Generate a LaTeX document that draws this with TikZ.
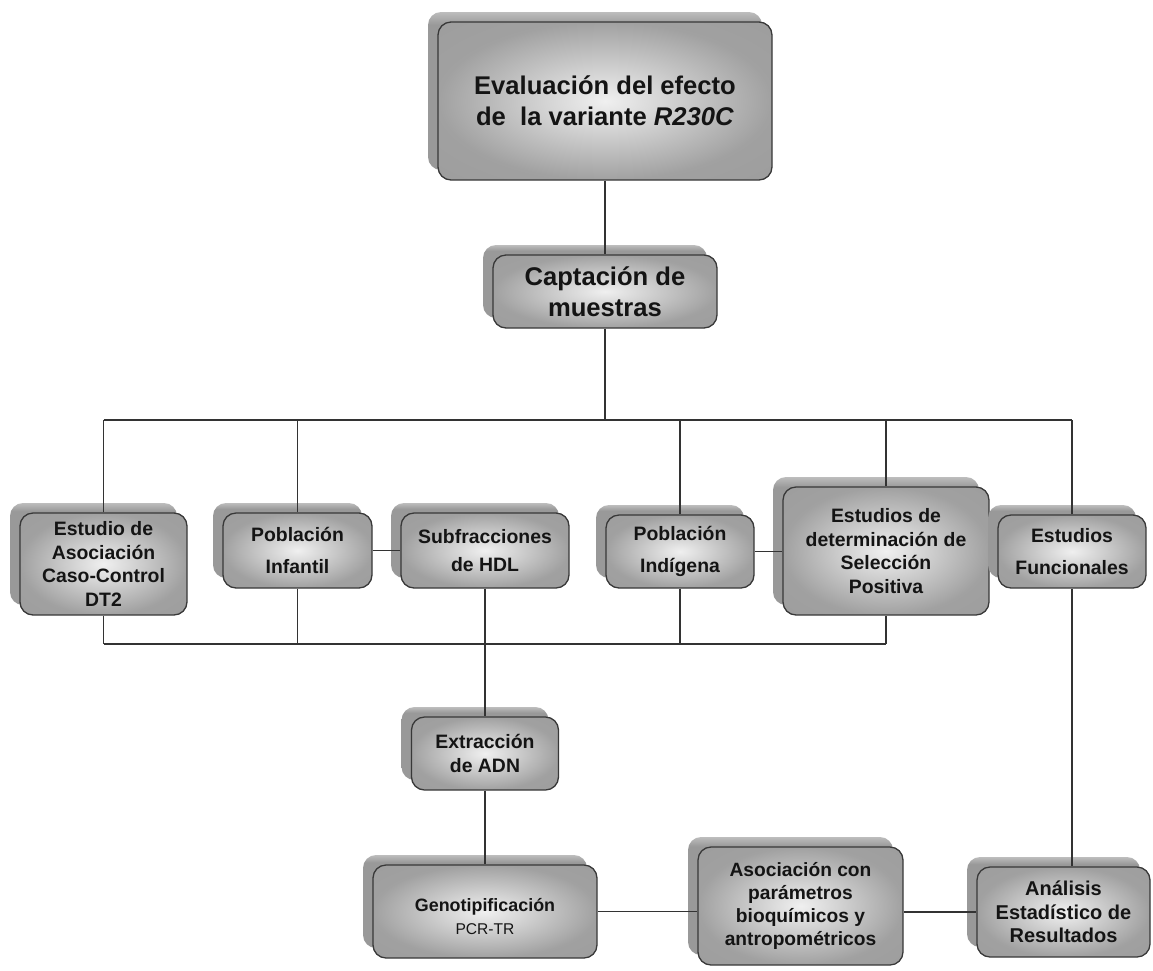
\documentclass[tikz,border=0pt]{standalone}
\usepackage{fontspec}
\setmainfont{Liberation Sans}
\usetikzlibrary{shadows}

% soft glow: light centre fading to mid grey at the box edge
\pgfdeclareradialshading{boxglow}{\pgfpoint{0bp}{0bp}}{%
  color(0bp)=(black!6); color(9bp)=(black!17); color(25bp)=(black!37); color(50bp)=(black!40)}
% back plate: flat grey with a paler rim along its upper edge
\pgfdeclareverticalshading{platefade}{100bp}{%
  color(0bp)=(black!40); color(71bp)=(black!40); color(75bp)=(black!26); color(100bp)=(black!26)}

\tikzset{
  flowbox/.style={draw=black!78, line width=1.3pt, rounded corners=13pt,
    shading=boxglow, align=center, inner sep=0pt, text=black!92,
    general shadow={shading=platefade, shadow xshift=-10pt, shadow yshift=10pt}},
  bigtext/.style={font=\bfseries\fontsize{25.6}{31}\selectfont},
  midtext/.style={font=\bfseries\fontsize{19.4}{23.4}\selectfont},
  innerlabel/.style={inner sep=0pt, text=black!92},
  link/.style={draw=black!80, line width=1.2pt},
}

\begin{document}
\begin{tikzpicture}[x=1pt,y=-1pt]
\useasboundingbox (0,0) rectangle (1153,970);

% title and sampling
\node[flowbox, bigtext, minimum width=334pt, minimum height=158pt] (goal) at (605,101)
  {Evaluación del efecto\\de\ \ la variante \textit{R230C}};
\node[flowbox, bigtext, minimum width=224pt, minimum height=73pt] (capt) at (605,291.5)
  {Captación de\\muestras};

% study groups
\node[flowbox, midtext, minimum width=167pt, minimum height=102pt] (asoc) at (103.5,564)
  {Estudio de\\Asociación\\Caso-Control\\DT2};
\node[flowbox, midtext, minimum width=149pt, minimum height=75pt] (infa) at (297.5,550.5)
  {Población\\[9pt]Infantil};
\node[flowbox, midtext, minimum width=168pt, minimum height=75pt] (hdl) at (485,550.5)
  {Subfracciones\\[5pt]de HDL};
\node[flowbox, midtext, minimum width=148pt, minimum height=73pt] (indi) at (680,551.5)
  {Población\\[9pt]Indígena};
\node[flowbox, midtext, minimum width=206pt, minimum height=128pt] (sel) at (886,551)
  {Estudios de\\determinación de\\Selección\\Positiva};
\node[flowbox, midtext, minimum width=148pt, minimum height=73pt] (func) at (1072,551.5)
  {Estudios\\[9pt]Funcionales};

% laboratory and analysis
\node[flowbox, midtext, minimum width=147pt, minimum height=73pt] (adn) at (485,753.5)
  {Extracción\\de ADN};
\node[flowbox, minimum width=224pt, minimum height=93pt] (geno) at (485,911.5) {};
\node[innerlabel, font=\bfseries\fontsize{17.9}{21}\selectfont] (genoname)
  at ([yshift=4.5pt]geno.center) {Genotipificación};
\node[innerlabel, font=\fontsize{15.6}{19}\selectfont] (genomethod)
  at ([yshift=-17.5pt]geno.center) {PCR-TR};
\node[flowbox, font=\bfseries\fontsize{19.2}{23.2}\selectfont,
      minimum width=205pt, minimum height=118pt] (param) at (800.5,906)
  {Asociación con\\parámetros\\bioquímicos y\\antropométricos};
\node[flowbox, font=\bfseries\fontsize{20}{23.5}\selectfont,
      minimum width=173pt, minimum height=90pt] (stat) at (1063.5,912)
  {Análisis\\Estadístico de\\Resultados};

% bus levels
\coordinate (top bus) at (605,420);
\coordinate (low bus) at (485,644);

% connectors
\draw[link] (goal.south) -- (capt.north);
\draw[link] (capt.south) -- (top bus);
\draw[link] (asoc.north |- top bus) -- (func.north |- top bus);
\foreach \n in {asoc,infa,indi,sel,func}
  \draw[link] (\n.north) -- (\n.north |- top bus);
\draw[link] (asoc.south |- low bus) -- (sel.south |- low bus);
\foreach \n in {asoc,infa,indi,sel}
  \draw[link] (\n.south) -- (\n.south |- low bus);
\draw[link] (infa.east) -- (hdl.west);
\draw[link] (indi.east) -- (indi.east -| sel.west);
\draw[link] (hdl.south) -- (adn.north);
\draw[link] (adn.south) -- (geno.north);
\draw[link] (func.south) -- (func.south |- stat.north);
\draw[link] (geno.east) -- (geno.east -| param.west);
\draw[link] (stat.west -| param.east) -- (stat.west);
\end{tikzpicture}
\end{document}
